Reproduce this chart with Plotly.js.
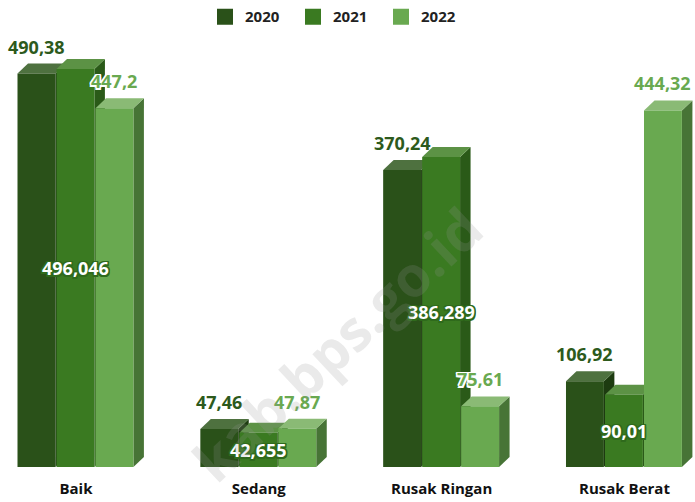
<!DOCTYPE html>
<html>
<head>
<meta charset="utf-8">
<script src="https://cdn.plot.ly/plotly-3.0.1.min.js"></script>
<style>html,body{margin:0;padding:0;background:#fff;}#chart{width:695px;height:502px;}</style>
</head>
<body>
<div id="chart"></div>
<script>
// ---- data ----
const categories = ['Baik', 'Sedang', 'Rusak Ringan', 'Rusak Berat'];
const years = ['2020', '2021', '2022'];
const v2020 = [490.38, 47.46, 370.24, 106.92];
const v2021 = [496.046, 42.655, 386.289, 90.01];
const v2022 = [447.2, 47.87, 75.61, 444.32];

// ---- styles ----
const frontColors = ['#2a5119', '#3a7a21', '#69a950'];
const topColors   = ['#4e713f', '#5c9245', '#8aba75'];
const sideColors  = ['#1d3b10', '#2a5a18', '#477436'];
const labelColors = ['#2d5a1c', '#ffffff', '#69a950'];

const W = 695, H = 502;
const margin = {l: 0, r: 0, t: 0, b: 35};
const plotW = W - margin.l - margin.r, plotH = H - margin.t - margin.b;
const xRange = [-0.4157, 3.3856];
const yRange = [0, 577];
const dxPx = 10.5, dyPx = 10;
const dx = dxPx * (xRange[1] - xRange[0]) / plotW;
const dy = dyPx * (yRange[1] - yRange[0]) / plotH;
const groupW = 0.64, slot = groupW / 3, barW = slot - 0.006;

const series = [v2020, v2021, v2022];
const xIdx = categories.map((c, i) => i);
const fmt = v => String(v).replace('.', ',');

const traces = series.map((vals, s) => ({
  type: 'bar',
  name: years[s],
  x: xIdx,
  y: vals,
  width: barW,
  offset: -groupW / 2 + s * slot,
  marker: {color: frontColors[s], line: {width: 0}},
  showlegend: false,
  hoverinfo: 'skip'
}));
// legend entries (square swatches)
years.forEach((yr, s) => {
  traces.push({
    type: 'scatter', mode: 'markers', name: yr,
    x: [null], y: [null],
    marker: {symbol: 'square', size: 16, color: frontColors[s]},
    showlegend: true, hoverinfo: 'skip'
  });
});

const shapes = [];
xIdx.forEach(c => {
  series.forEach((vals, s) => {
    const v = vals[c];
    const x0 = c - groupW / 2 + s * slot;
    const x1 = x0 + barW;
    shapes.push({
      type: 'path', xref: 'x', yref: 'y', layer: 'below',
      path: `M${x1},0 L${x1 + dx},${dy} L${x1 + dx},${v + dy} L${x1},${v} Z`,
      fillcolor: sideColors[s], line: {width: 0}
    });
    shapes.push({
      type: 'path', xref: 'x', yref: 'y', layer: 'below',
      path: `M${x0},${v} L${x1},${v} L${x1 + dx},${v + dy} L${x0 + dx},${v + dy} Z`,
      fillcolor: topColors[s], line: {width: 0}
    });
  });
});

const halo = c => [-1.5,0,1.5].flatMap(a => [-1.5,0,1.5].map(b => `${a}px ${b}px 0 ${c}`)).join(',');

const annotations = [];
series.forEach((vals, s) => {
  vals.forEach((v, c) => {
    const xc = c - groupW / 2 + s * slot + barW / 2;
    const inside = s === 1;
    annotations.push({
      x: xc, y: inside ? v / 2 : v, xref: 'x', yref: 'y',
      text: fmt(v), showarrow: false,
      xanchor: 'center', yanchor: 'middle',
      yshift: inside ? 0 : 27,
      font: {family: 'Open Sans', size: 18, weight: 'bold', color: labelColors[s],
             shadow: s === 1 ? halo('#2f6a1c') : (s === 2 ? halo('#ffffff') : 'none')}
    });
  });
});

// watermark (pixel position converted to paper)
const wmPx = {x: 336, y: 343};
annotations.push({
  x: (wmPx.x - margin.l) / plotW, y: 1 - (wmPx.y - margin.t) / plotH,
  xref: 'paper', yref: 'paper', text: 'kab.bps.go.id', showarrow: false,
  textangle: -43, xanchor: 'center', yanchor: 'middle',
  font: {family: 'Open Sans', size: 56, weight: 'bold', color: 'rgba(150,150,150,0.2)'}
});

const layout = {
  width: W, height: H,
  margin: margin,
  paper_bgcolor: '#ffffff', plot_bgcolor: '#ffffff',
  barmode: 'overlay',
  showlegend: true,
  legend: {
    orientation: 'h', x: 205 / plotW, xanchor: 'left', y: 1 - 13 / plotH, yanchor: 'middle',
    entrywidth: 43, entrywidthmode: 'pixels',
    font: {family: 'Open Sans', size: 15, weight: 'bold', color: '#222222'},
    bgcolor: 'rgba(0,0,0,0)'
  },
  xaxis: {
    range: xRange, tickvals: xIdx, ticktext: categories,
    showgrid: false, zeroline: false, showline: false, ticks: '',
    ticklabelstandoff: 11,
    tickfont: {family: 'Open Sans', size: 15, weight: 'bold', color: '#111111'},
    fixedrange: true
  },
  yaxis: {
    range: yRange, visible: false, showgrid: false, zeroline: false, fixedrange: true
  },
  shapes: shapes,
  annotations: annotations
};

Plotly.newPlot('chart', traces, layout, {displayModeBar: false, staticPlot: true});
</script>
</body>
</html>
